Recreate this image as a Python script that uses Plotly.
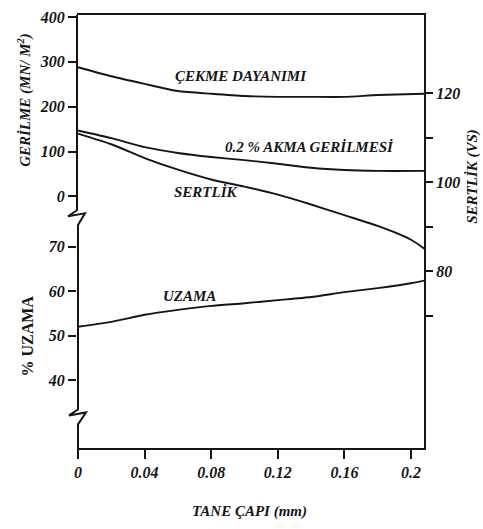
import plotly.graph_objects as go

# Grain size (mm)
tane_capi = [0.0, 0.02, 0.04, 0.06, 0.08, 0.10, 0.12, 0.14, 0.16, 0.18, 0.208]

# Stress curves, MN/m^2 (upper left axis)
cekme_dayanimi = [288, 268, 251, 235, 229, 224, 222, 222, 222, 226, 229]
akma_gerilmesi = [147, 130, 110, 97, 88, 81, 73, 64, 59, 57, 57]

# Hardness, VS (right axis)
sertlik_x = [0.0, 0.02, 0.04, 0.06, 0.08, 0.10, 0.12, 0.14, 0.16, 0.18, 0.20, 0.208]
sertlik = [110.9, 108.5, 105.4, 102.8, 100.6, 99.0, 97.2, 95.0, 92.6, 90.2, 87.1, 85.1]

# Elongation, % (lower left axis)
uzama_x = [0.0, 0.02, 0.04, 0.06, 0.08, 0.10, 0.12, 0.14, 0.16, 0.18, 0.20, 0.208]
uzama = [52.0, 53.1, 54.7, 55.8, 56.7, 57.3, 58.0, 58.7, 59.8, 60.7, 61.8, 62.4]

x_ticks = [0, 0.04, 0.08, 0.12, 0.16, 0.2]
x_ticktext = ["0", "0.04", "0.08", "0.12", "0.16", "0.2"]
gerilme_ticks = [0, 100, 200, 300, 400]
uzama_ticks = [40, 50, 60, 70]
sertlik_ticks = [80, 100, 120]
sertlik_minor = [70, 90, 110]

W, H = 483, 529
ML, MR, MT, MB = 77, 59, 9, 81
PW, PH = W - ML - MR, H - MT - MB

INK = "#151515"
SERIF = "Liberation Serif"


def fx(px):
    return (px - ML) / PW


def fy(py):
    return (H - MB - py) / PH


tick_font = dict(family=SERIF, size=16, color=INK, style="italic", weight="bold")
label_font = dict(family=SERIF, size=15, color=INK, style="italic", weight="bold")

fig = go.Figure()
line = dict(color=INK, width=1.9, shape="spline", smoothing=0.6)
fig.add_trace(go.Scatter(x=tane_capi, y=cekme_dayanimi, mode="lines", line=line, yaxis="y"))
fig.add_trace(go.Scatter(x=tane_capi, y=akma_gerilmesi, mode="lines", line=line, yaxis="y"))
fig.add_trace(go.Scatter(x=sertlik_x, y=sertlik, mode="lines", line=line, yaxis="y3"))
fig.add_trace(go.Scatter(x=uzama_x, y=uzama, mode="lines", line=line, yaxis="y2"))

axis_common = dict(showgrid=False, zeroline=False, ticks="outside", tickcolor=INK,
                   tickwidth=1.5, tickfont=tick_font)

fig.update_layout(
    width=W, height=H,
    margin=dict(l=ML, r=MR, t=MT, b=MB),
    paper_bgcolor="white", plot_bgcolor="white",
    showlegend=False,
    xaxis=dict(range=[-0.0006, 0.2078], tickvals=x_ticks, ticktext=x_ticktext,
               showline=True, linecolor=INK, linewidth=2, mirror=True, ticklen=9,
               **axis_common),
    yaxis=dict(range=[-560.4, 404.4], tickvals=gerilme_ticks, showline=False,
               ticklen=8, **axis_common),
    yaxis2=dict(range=[24.7, 122.2], tickvals=uzama_ticks, overlaying="y", side="left",
                anchor="x", showline=False, ticklen=8, **axis_common),
    yaxis3=dict(range=[40.44, 137.46], tickvals=sertlik_ticks,
                minor=dict(tickvals=sertlik_minor, ticks="outside", ticklen=7,
                           tickcolor=INK, tickwidth=1.5),
                overlaying="y", side="right", anchor="x", showline=True, linecolor=INK,
                linewidth=2, ticklen=7, **axis_common),
)

# Left axis line with the two break marks
pts = [(77, 9), (77, 207), (68, 213), (85, 210), (78, 222), (78, 409),
       (69, 415), (86, 412), (78, 424), (78, 448)]
path = "M " + " L ".join(f"{fx(a):.5f},{fy(b):.5f}" for a, b in pts)
fig.add_shape(type="path", path=path, xref="paper", yref="paper",
              line=dict(color=INK, width=2))


def note(x, y, text, xref, yref, font, angle=0):
    fig.add_annotation(x=x, y=y, xref=xref, yref=yref, text=text, textangle=angle,
                       xanchor="center", yanchor="middle", showarrow=False, font=font)


# Curve labels
note(0.098, 268, "ÇEKME DAYANIMI", "x", "y", label_font)
note(0.139, 110, "0.2 % AKMA GERİLMESİ", "x", "y", label_font)
note(0.077, 97.9, "SERTLİK", "x", "y3", label_font)
note(0.067, 58.9, "UZAMA", "x", "y2", label_font)

# Axis titles
note(fx(25), fy(95), "GERİLME (MN/ M<sup>2</sup>)", "paper", "paper", label_font, -90)
note(fx(28), fy(335), "% UZAMA", "paper", "paper",
     dict(family=SERIF, size=16, color=INK, weight="bold"), -90)
note(fx(473), fy(173), "SERTLİK (VS)", "paper", "paper", label_font, -90)
note(fx(249), fy(512), "TANE ÇAPI (mm)", "paper", "paper", label_font)

fig.write_html("out.html")
